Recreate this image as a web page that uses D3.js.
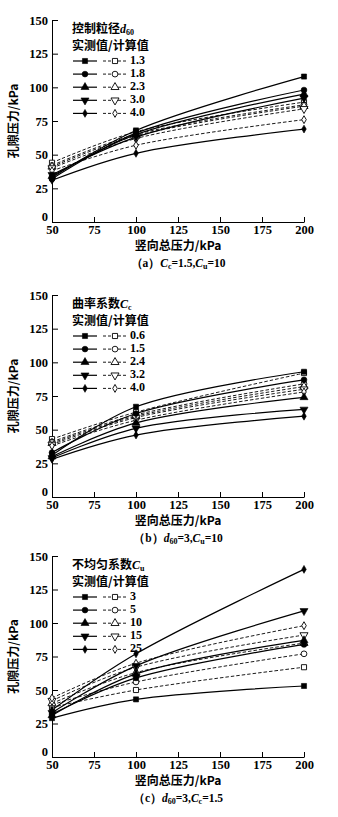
<!DOCTYPE html>
<html><head><meta charset="utf-8">
<script src="https://cdn.jsdelivr.net/npm/d3@7"></script>
<style>
html,body{margin:0;padding:0;background:#fff;}
svg{display:block;}
</style></head>
<body>
<script>
// ---- data ----
const xValues = [50, 100, 200];
const xTicks = [50, 75, 100, 125, 150, 175, 200];
const yTicks = [0, 25, 50, 75, 100, 125, 150];

const aLabels = ["1.3", "1.8", "2.3", "3.0", "4.0"];
const aMeasured = [[33, 68, 108], [32, 66, 98], [34, 65, 95], [35, 63, 92], [31, 51, 69]];
const aCalculated = [[44, 67, 89], [42, 65, 87], [41, 64, 86], [40, 62, 84], [38, 57, 76]];

const bLabels = ["0.6", "1.5", "2.4", "3.2", "4.0"];
const bMeasured = [[31, 67, 93], [33, 62, 87], [30, 55, 74], [29, 51, 65], [28, 46, 60]];
const bCalculated = [[43, 63, 92], [41, 61, 84], [40, 60, 82], [39, 59, 80], [38, 57, 78]];

const cLabels = ["3", "5", "10", "15", "25"];
const cMeasured = [[29, 43, 53], [32, 59, 84], [31, 62, 87], [33, 68, 109], [35, 77, 140]];
const cCalculated = [[37, 50, 67], [39, 56, 77], [40, 63, 85], [42, 67, 91], [44, 70, 98]];

const xTitle = "竖向总压力/kPa";
const yTitle = "孔隙压力/kPa";
const legendSub = "实测值/计算值";

// ---- drawing ----
const W = 338, H = 817;
const svg = d3.select("body").append("svg").attr("width", W).attr("height", H);
const serif = "'Liberation Serif','Times New Roman',serif";
const cjk = "'Noto Sans CJK SC','Liberation Serif',serif";

const shapes = [
  {t: d3.symbolSquare, s: 26, r: 0},
  {t: d3.symbolCircle, s: 26, r: 0},
  {t: d3.symbolTriangle, s: 28, r: 0},
  {t: d3.symbolTriangle, s: 28, r: 180},
  {t: d3.symbolDiamond, s: 18, r: 0}
];

function marker(g, i, x, y, filled) {
  const sh = shapes[i];
  g.append("path")
    .attr("d", d3.symbol().type(sh.t).size(sh.s)())
    .attr("transform", `translate(${x},${y}) rotate(${sh.r})`)
    .attr("fill", filled ? "#000" : "#fff")
    .attr("stroke", "#000")
    .attr("stroke-width", filled ? 0.6 : 0.9);
}

// parts: [text, italic, isSub, latin]
function rich(t, parts) {
  let prevSub = false;
  parts.forEach(([txt, it, isSub, latin]) => {
    const s = t.append("tspan").text(txt).style("font-style", it ? "italic" : "normal");
    if (latin) s.style("font-family", serif);
    if (isSub) s.style("font-size", "8px");
    if (isSub && !prevSub) s.attr("dy", 3);
    if (!isSub && prevSub) s.attr("dy", -3);
    prevSub = isSub;
  });
}

function panel(cfg) {
  const g = svg.append("g");
  const x = d3.scaleLinear().domain([50, 200]).range([52, 304]);
  const y = d3.scaleLinear().domain([0, 150]).range([cfg.y0, cfg.y150]);

  const yAxis = d3.axisLeft(y).tickValues(yTicks).tickSizeInner(-6).tickSizeOuter(0).tickPadding(4);
  const gy = g.append("g").attr("transform", `translate(52,0)`).call(yAxis);
  const xAxis = d3.axisBottom(x).tickValues(xTicks).tickSizeInner(-5).tickSizeOuter(0).tickPadding(3);
  const gx = g.append("g").attr("transform", `translate(0,${cfg.y0})`).call(xAxis);
  [gy, gx].forEach(a => {
    a.select(".domain").attr("stroke", "#000").attr("stroke-width", 1);
    a.selectAll(".tick line").attr("stroke", "#000").attr("stroke-width", 1);
    a.selectAll(".tick text").attr("fill", "#000").style("font-family", serif)
      .style("font-size", "12.5px").style("font-weight", "bold");
  });
  gy.selectAll(".tick text").filter(d => d === 0).attr("dy", "-0.1em");
  gx.selectAll(".tick line").filter(d => d === 50).remove();

  g.append("text")
    .attr("transform", `translate(15,${(cfg.y0 + cfg.y150) / 2}) rotate(-90)`)
    .attr("text-anchor", "middle").attr("dominant-baseline", "middle")
    .style("font-family", cjk).style("font-size", "12px").style("font-weight", "bold")
    .text(yTitle);
  g.append("text")
    .attr("x", 178).attr("y", cfg.y0 + 25)
    .attr("text-anchor", "middle").attr("dominant-baseline", "middle")
    .style("font-family", cjk).style("font-size", "12px").style("font-weight", "bold")
    .text(xTitle);
  const cap = g.append("text")
    .attr("x", 178).attr("y", cfg.y0 + 42)
    .attr("text-anchor", "middle").attr("dominant-baseline", "middle")
    .style("font-family", serif).style("font-size", "11.5px").style("font-weight", "bold");
  rich(cap, cfg.caption);

  const line = d3.line().x((d, i) => x(xValues[i])).y(d => y(d)).curve(d3.curveCatmullRom);

  cfg.calc.forEach(vals => {
    g.append("path").attr("d", line(vals)).attr("fill", "none")
      .attr("stroke", "#000").attr("stroke-width", 0.9).attr("stroke-dasharray", "3.5,2");
  });
  cfg.meas.forEach(vals => {
    g.append("path").attr("d", line(vals)).attr("fill", "none")
      .attr("stroke", "#000").attr("stroke-width", 1.2);
  });
  cfg.calc.forEach((vals, i) => vals.forEach((v, j) => marker(g, i, x(xValues[j]), y(v), false)));
  cfg.meas.forEach((vals, i) => vals.forEach((v, j) => marker(g, i, x(xValues[j]), y(v), true)));

  const lt = cfg.y150;
  const t1 = g.append("text").attr("x", 72).attr("y", lt + 10).attr("dominant-baseline", "middle")
    .style("font-family", cjk).style("font-size", "12px").style("font-weight", "bold");
  rich(t1, cfg.legendTitle);
  g.append("text").attr("x", 72).attr("y", lt + 27).attr("dominant-baseline", "middle")
    .style("font-family", cjk).style("font-size", "12px").style("font-weight", "bold")
    .text(legendSub);
  cfg.labels.forEach((lab, i) => {
    const ly = lt + 41 + i * 13.1;
    g.append("line").attr("x1", 73).attr("x2", 97).attr("y1", ly).attr("y2", ly)
      .attr("stroke", "#000").attr("stroke-width", 1.2);
    marker(g, i, 85, ly, true);
    g.append("line").attr("x1", 103).attr("x2", 126).attr("y1", ly).attr("y2", ly)
      .attr("stroke", "#000").attr("stroke-width", 0.9).attr("stroke-dasharray", "3,2");
    marker(g, i, 115, ly, false);
    g.append("text").attr("x", 130).attr("y", ly).attr("dominant-baseline", "middle")
      .style("font-family", serif).style("font-size", "12px").style("font-weight", "bold")
      .text(lab);
  });
}

panel({
  y150: 20, y0: 222, meas: aMeasured, calc: aCalculated, labels: aLabels,
  legendTitle: [["控制粒径", false, false, false], ["d", true, false, true], ["60", false, true, true]],
  caption: [["（a）", false, false, false], ["C", true, false, true], ["c", false, true, true], ["=1.5,", false, false, true],
            ["C", true, false, true], ["u", false, true, true], ["=10", false, false, true]]
});
panel({
  y150: 295, y0: 497, meas: bMeasured, calc: bCalculated, labels: bLabels,
  legendTitle: [["曲率系数", false, false, false], ["C", true, false, true], ["c", false, true, true]],
  caption: [["（b）", false, false, false], ["d", true, false, true], ["60", false, true, true], ["=3,", false, false, true],
            ["C", true, false, true], ["u", false, true, true], ["=10", false, false, true]]
});
panel({
  y150: 556, y0: 757, meas: cMeasured, calc: cCalculated, labels: cLabels,
  legendTitle: [["不均匀系数", false, false, false], ["C", true, false, true], ["u", false, true, true]],
  caption: [["（c）", false, false, false], ["d", true, false, true], ["60", false, true, true], ["=3,", false, false, true],
            ["C", true, false, true], ["c", false, true, true], ["=1.5", false, false, true]]
});
</script>
</body></html>
